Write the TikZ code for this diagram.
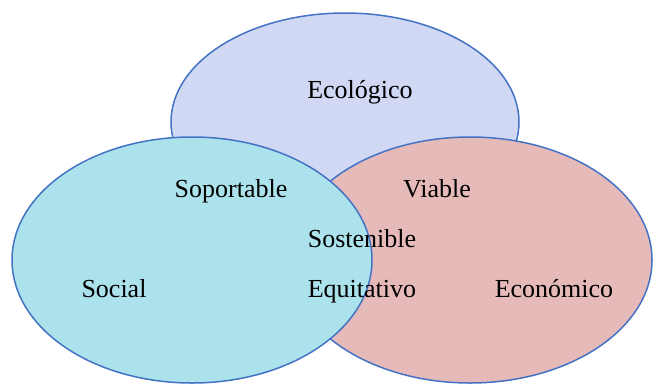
\documentclass[tikz,border=0pt]{standalone}
\usepackage{fontspec}
\setmainfont{Liberation Serif}
\usetikzlibrary{shapes.geometric}

\definecolor{ringblue}{RGB}{68,114,196}
\definecolor{ecofill}{RGB}{208,216,243}
\definecolor{socfill}{RGB}{172,226,236}
\definecolor{econfill}{RGB}{231,186,186}

\tikzset{
    circle3/.style={ellipse, draw=ringblue, line width=1.5pt, inner sep=0pt},
    word/.style={anchor=base, font=\fontsize{26}{30}\selectfont}
}

\begin{document}
\begin{tikzpicture}[x=1pt, y=-1pt]
    \useasboundingbox (0,0) rectangle (655,386);

    % Draw the three ellipses, top one first
    \node [circle3, fill=ecofill, minimum width=348pt, minimum height=218pt] (eco) at (345,122) {};
    \node [circle3, fill=econfill, minimum width=364pt, minimum height=246pt] (econ) at (470,260) {};
    \node [circle3, fill=socfill, minimum width=360pt, minimum height=246pt] (soc) at (192,260) {};

    % Labels for the three dimensions
    \node [word] (ecolbl) at (360,98) {Ecológico};
    \node [word] (soclbl) at (114,297) {Social};
    \node [word] (econlbl) at (554,297) {Económico};

    % Labels for the overlaps
    \node [word] (sop) at (231,197) {Soportable};
    \node [word] (via) at (437,197) {Viable};
    \node [word] (sos) at (362,247) {Sostenible};
    \node [word] (equ) at (362,297) {Equitativo};
\end{tikzpicture}
\end{document}
